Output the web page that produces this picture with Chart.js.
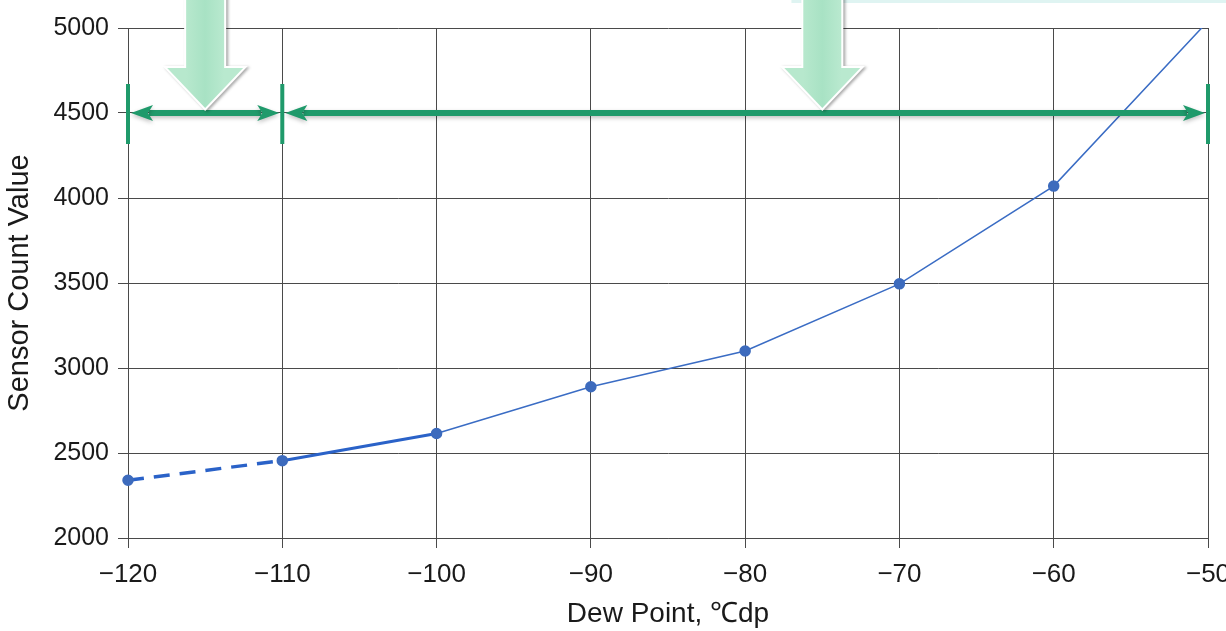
<!DOCTYPE html>
<html>
<head>
<meta charset="utf-8">
<script src="https://cdn.jsdelivr.net/npm/chart.js@4.4.1/dist/chart.umd.min.js"></script>
<style>
html,body{margin:0;padding:0;background:#fff;}
#wrap{width:1226px;height:631px;position:relative;}
</style>
</head>
<body>
<div id="wrap"><canvas id="c"></canvas></div>
<script>
// ---- data ----
const dewPoint = [-120, -110, -100, -90, -80, -70, -60, -50];
const sensorCount = [2340, 2455, 2615, 2890, 3100, 3495, 4070, 5040];
const markerRadius = [5, 5, 5, 5, 5, 5, 5, 0];
const xTicks = [-120, -110, -100, -90, -80, -70, -60, -50];
const yTicks = [2000, 2500, 3000, 3500, 4000, 4500, 5000];
// range annotations
const rangeBounds = [-120, -110, -50];
const rangeLevel = 4500;
const bigArrowX = [-115, -75];

const GREEN = '#1f9a6b';
const MINT = '#a8e2c4';
const FONT = 'Liberation Sans, Arial, sans-serif';

function fmt(v){ return v < 0 ? '\u2212' + Math.abs(v) : String(v); }

const annot = {
  id: 'annot',
  afterDatasetsDraw(chart){
    const {ctx, scales:{x, y}} = chart;
    ctx.save();
    // faint cyan strip at top
    ctx.fillStyle = '#dff4f2';
    ctx.fillRect(x.getPixelForValue(-77), 0, 1226, 3);

    const yl = y.getPixelForValue(rangeLevel);
    const half = 29;
    // vertical bars
    ctx.strokeStyle = GREEN;
    ctx.lineWidth = 4;
    rangeBounds.forEach(v => {
      const px = x.getPixelForValue(v);
      ctx.beginPath();
      ctx.moveTo(px, yl - half);
      ctx.lineTo(px, yl + half + 2);
      ctx.stroke();
    });
    // double-headed arrows
    function dArrow(a, b){
      const x1 = x.getPixelForValue(a) + 3, x2 = x.getPixelForValue(b) - 3;
      const hl = 22, hw = 8;
      ctx.shadowColor = 'rgba(0,0,0,0.25)';
      ctx.shadowBlur = 4; ctx.shadowOffsetY = 2;
      ctx.strokeStyle = GREEN; ctx.fillStyle = GREEN;
      ctx.lineWidth = 6;
      ctx.beginPath(); ctx.moveTo(x1 + hl - 4, yl); ctx.lineTo(x2 - hl + 4, yl); ctx.stroke();
      ctx.beginPath(); ctx.moveTo(x1, yl); ctx.lineTo(x1 + hl, yl - hw); ctx.lineTo(x1 + hl - 5, yl); ctx.lineTo(x1 + hl, yl + hw); ctx.closePath(); ctx.fill();
      ctx.beginPath(); ctx.moveTo(x2, yl); ctx.lineTo(x2 - hl, yl - hw); ctx.lineTo(x2 - hl + 5, yl); ctx.lineTo(x2 - hl, yl + hw); ctx.closePath(); ctx.fill();
      ctx.shadowColor = 'transparent';
    }
    for (let i = 0; i < rangeBounds.length - 1; i++) dArrow(rangeBounds[i], rangeBounds[i+1]);

    // big mint arrows
    bigArrowX.forEach(v => {
      const cx = x.getPixelForValue(v);
      const tip = yl - 5;
      const headTop = tip - 40, sw = 19, hw = 38;
      ctx.beginPath();
      ctx.moveTo(cx - sw, -5);
      ctx.lineTo(cx - sw, headTop);
      ctx.lineTo(cx - hw, headTop);
      ctx.lineTo(cx, tip);
      ctx.lineTo(cx + hw, headTop);
      ctx.lineTo(cx + sw, headTop);
      ctx.lineTo(cx + sw, -5);
      ctx.closePath();
      ctx.shadowColor = 'rgba(0,0,0,0.35)';
      ctx.shadowBlur = 3; ctx.shadowOffsetX = 2; ctx.shadowOffsetY = 1;
      ctx.strokeStyle = '#ffffff'; ctx.lineWidth = 4;
      ctx.stroke();
      ctx.shadowColor = 'transparent';
      const g = ctx.createLinearGradient(cx - sw, 0, cx + sw, 0);
      g.addColorStop(0, '#b7e8cd'); g.addColorStop(0.5, MINT); g.addColorStop(1, '#b9e9cf');
      ctx.fillStyle = g;
      ctx.fill();
    });
    ctx.restore();
  }
};

new Chart(document.getElementById('c'), {
  type: 'line',
  data: {
    datasets: [{
      data: dewPoint.map((d, i) => ({x: d, y: sensorCount[i]})),
      borderColor: '#3a6cc4',
      backgroundColor: '#3a6cc4',
      pointBackgroundColor: '#3d6bbd',
      pointBorderColor: '#3d6bbd',
      pointRadius: markerRadius,
      pointHoverRadius: markerRadius,
      borderWidth: 1.5,
      tension: 0,
      fill: false,
      clip: { left: 10, top: 0, right: 10, bottom: 10 },
      segment: {
        borderDash: c => c.p0.parsed.x < -110 ? [16, 10] : undefined,
        borderWidth: c => c.p0.parsed.x < -110 ? 3.5 : (c.p0.parsed.x < -100 ? 3 : 1.5),
        borderColor: c => c.p0.parsed.x < -100 ? '#2a62c8' : '#3a6cc4'
      }
    }]
  },
  options: {
    responsive: true,
    maintainAspectRatio: false,
    animation: false,
    events: [],
    layout: { padding: { top: 28, right: 18, left: 0, bottom: 0 } },
    plugins: { legend: { display: false }, tooltip: { enabled: false } },
    scales: {
      x: {
        type: 'linear',
        min: -120, max: -50,
        afterBuildTicks: s => { s.ticks = xTicks.map(v => ({value: v})); },
        afterFit: s => { s.height = 93; s.paddingLeft = 0; s.paddingRight = 0; },
        grid: { color: '#4a4a4a', lineWidth: 1, tickLength: 10, drawTicks: true },
        border: { color: '#4a4a4a', width: 1 },
        ticks: { color: '#1a1a1a', font: { family: FONT, size: 26 }, padding: 11, maxRotation: 0, callback: v => fmt(v) },
        title: { display: true, text: 'Dew Point, \u2103dp', color: '#1a1a1a', font: { family: FONT, size: 28 }, padding: { top: 4, bottom: 0 } }
      },
      y: {
        min: 2000, max: 5000,
        afterBuildTicks: s => { s.ticks = yTicks.map(v => ({value: v})); },
        afterFit: s => { s.width = 128; s.paddingTop = 0; s.paddingBottom = 0; },
        grid: { color: '#4a4a4a', lineWidth: 1, tickLength: 10, drawTicks: true },
        border: { color: '#4a4a4a', width: 1 },
        ticks: { color: '#1a1a1a', font: { family: FONT, size: 25 }, padding: 9, callback: v => fmt(v) },
        title: { display: true, text: 'Sensor Count Value', color: '#1a1a1a', font: { family: FONT, size: 29 }, padding: { top: 3, bottom: 0 } }
      }
    }
  },
  plugins: [annot]
});
</script>
</body>
</html>
